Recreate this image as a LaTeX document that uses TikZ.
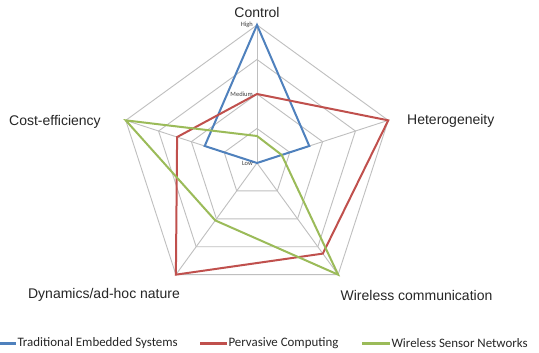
\documentclass[tikz,border=0pt]{standalone}
\usepackage{fontspec}
\setmainfont{Liberation Sans}
\newfontfamily\legendfont{Carlito}

\definecolor{tesblue}{HTML}{4F81BD}
\definecolor{pcred}{HTML}{C0504D}
\definecolor{wsngreen}{HTML}{9BBB59}
\definecolor{gridgray}{HTML}{BFBFBF}

\tikzset{
  gridline/.style={draw=gridgray, line width=0.9pt},
  series/.style={line width=2pt, line join=miter},
  axislabel/.style={font=\fontsize{14}{16}\selectfont, text=black!85, inner sep=0pt},
  levellabel/.style={font=\legendfont\fontsize{6.5}{7}\selectfont, text=black!75, anchor=east, inner sep=0pt},
  legendtext/.style={font=\legendfont\fontsize{12.9}{15}\selectfont, text=black!85, anchor=west, inner sep=0pt},
  legendline/.style={line width=3pt}
}

\begin{document}
\begin{tikzpicture}[x=1pt,y=1pt]
  \useasboundingbox[fill=white] (0,0) rectangle (539,-353);
  \coordinate (O) at (257,-163);

  \begin{scope}[shift={(O)}]
    % ringen (Low = midden, High = buitenrand)
    \foreach \r in {34.5,69,103.5,138}
      \draw[gridline] (90:\r) -- (18:\r) -- (-54:\r) -- (-126:\r) -- (162:\r) -- cycle;
    % spaken
    \foreach \a in {90,18,-54,-126,162}
      \draw[gridline] (0,0) -- (\a:138);

    % Traditional Embedded Systems
    \draw[series, tesblue] (90:138) -- (18:55) -- (-54:0) -- (-126:0) -- (162:55) -- cycle;
    % Pervasive Computing
    \draw[series, pcred] (90:69) -- (18:138) -- (-54:112) -- (-126:138) -- (162:84) -- cycle;
    % Wireless Sensor Networks
    \draw[series, wsngreen] (90:27) -- (18:26) -- (-54:138) -- (-126:71) -- (162:138) -- cycle;
  \end{scope}

  % niveaus langs de Control-as
  \node[levellabel] (high) at (253,-25) {High};
  \node[levellabel] (medium) at (253,-94) {Medium};
  \node[levellabel] (low) at (253,-163) {Low};

  % aslabels
  \node[axislabel] (control) at (257,-12) {Control};
  \node[axislabel, anchor=west] (hetero) at (407,-121) {Heterogeneity};
  \node[axislabel] (wireless) at (416.5,-295) {Wireless communication};
  \node[axislabel] (dynamics) at (104,-295) {Dynamics/ad-hoc nature};
  \node[axislabel, anchor=west] (cost) at (9,-122) {Cost-efficiency};

  % legenda
  \coordinate (l1) at (0,-343);
  \coordinate (l2) at (200,-343);
  \coordinate (l3) at (362,-343);
  \draw[legendline, tesblue] (l1) -- ++(16,0) node[legendtext] (tes) {Traditional Embedded Systems};
  \draw[legendline, pcred] (l2) -- ++(27,0) node[legendtext] (pc) {Pervasive Computing};
  \draw[legendline, wsngreen] (l3) -- ++(28,0) node[legendtext] (wsn) {Wireless Sensor Networks};
\end{tikzpicture}
\end{document}
